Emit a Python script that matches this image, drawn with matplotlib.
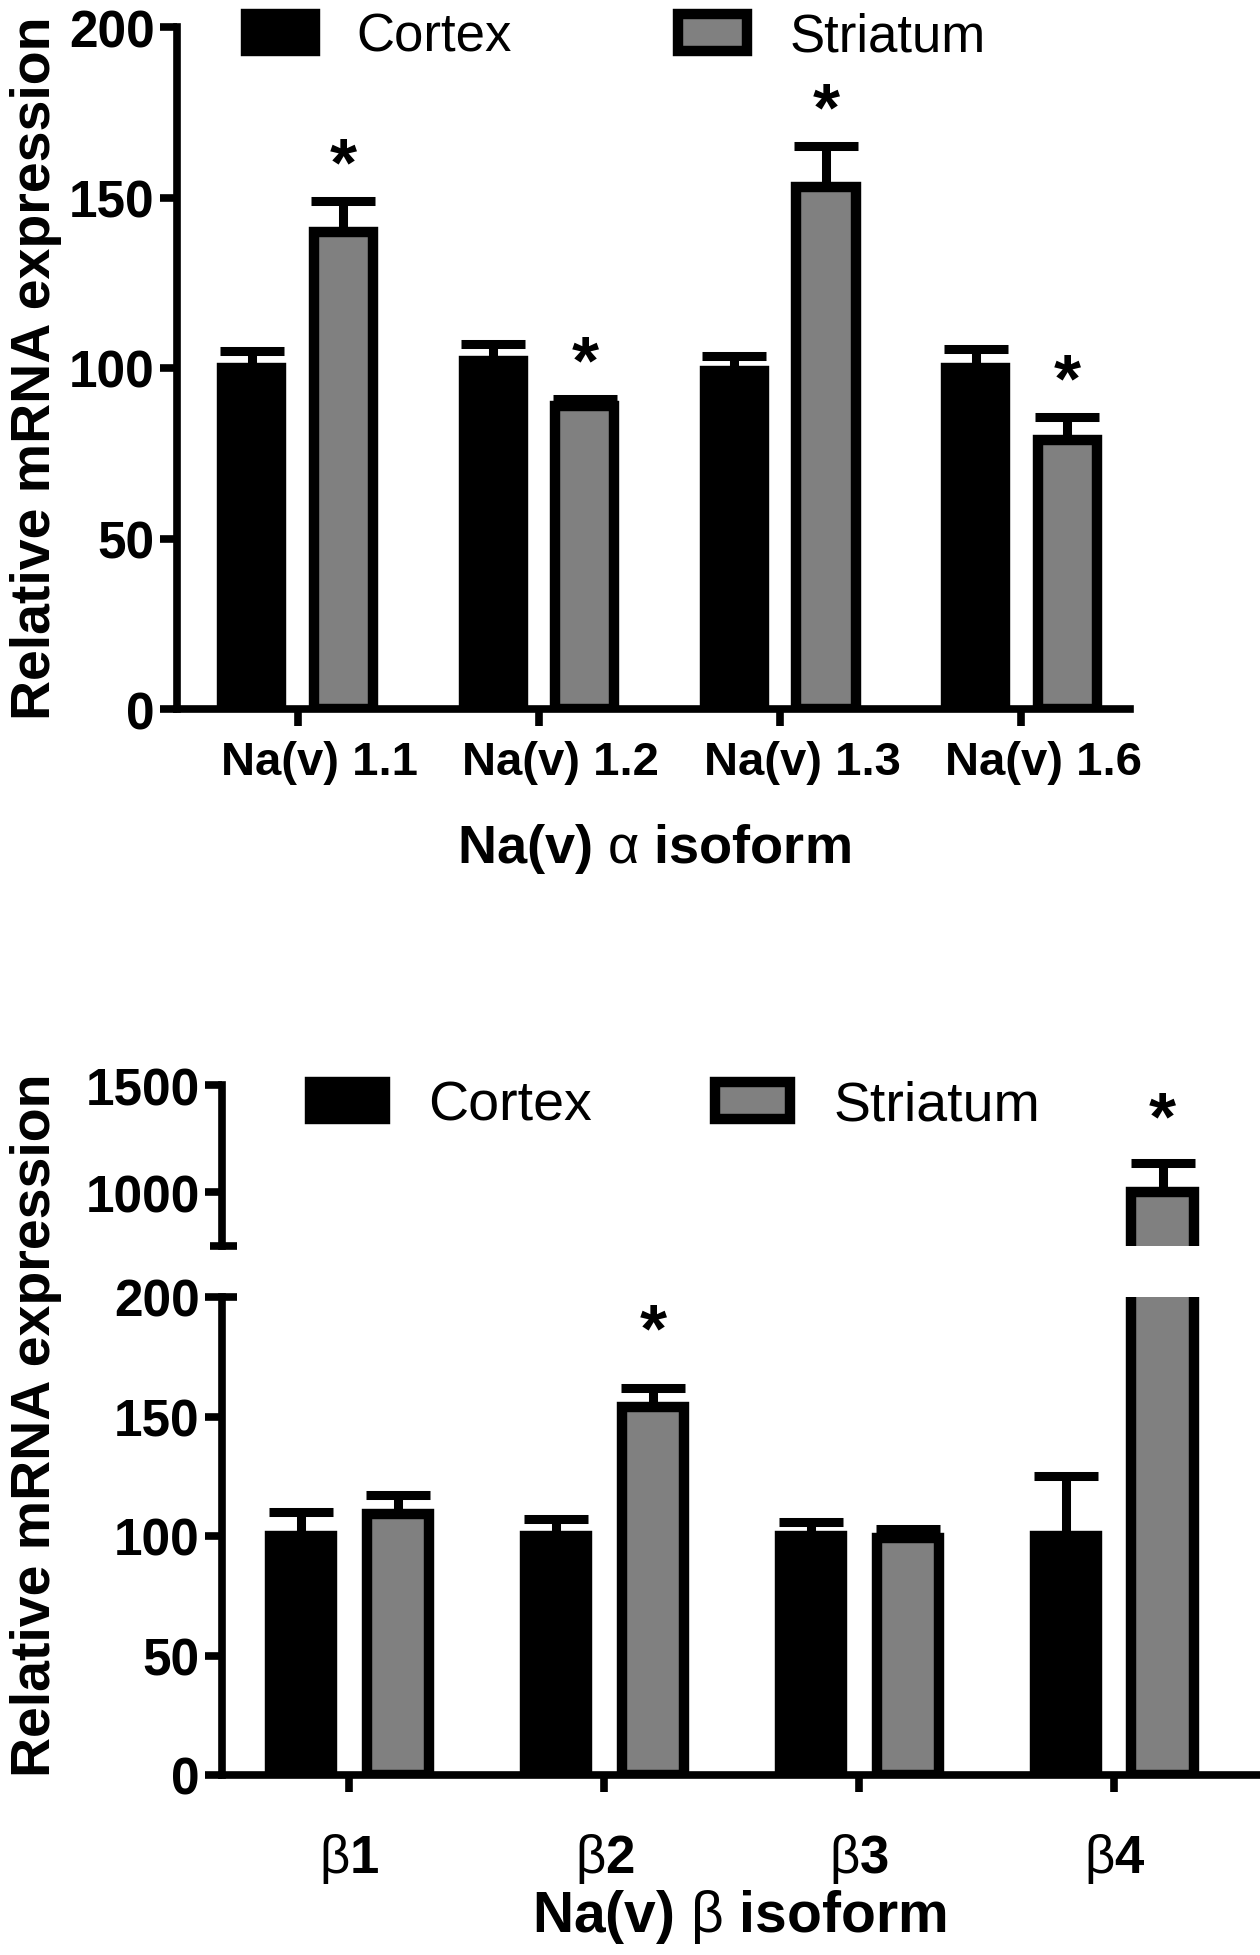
import matplotlib
matplotlib.use('Agg')
import matplotlib.pyplot as plt
import matplotlib.transforms as mtransforms
from matplotlib.patches import Patch
import numpy as np

plt.rcParams['font.family'] = ['Liberation Sans', 'DejaVu Sans']
plt.rcParams['mathtext.fontset'] = 'custom'
plt.rcParams['mathtext.rm'] = 'Liberation Sans'
plt.rcParams['mathtext.it'] = 'Liberation Sans:italic'
plt.rcParams['mathtext.bf'] = 'Liberation Sans:bold'

# ---------------- data ----------------
alpha_cats = ['Na(v) 1.1', 'Na(v) 1.2', 'Na(v) 1.3', 'Na(v) 1.6']
alpha_cortex = [100, 102, 99, 100]
alpha_cortex_err = [5, 5, 4.5, 5.5]
alpha_striatum = [140, 89, 153, 79]
alpha_striatum_err = [9, 2, 12, 6.5]
alpha_sig = [True, True, True, True]

beta_cats = [r'$\mathrm{\beta}$1', r'$\mathrm{\beta}$2', r'$\mathrm{\beta}$3', r'$\mathrm{\beta}$4']
beta_cortex = [100, 100, 100, 100]
beta_cortex_err = [10, 7, 6, 25]
beta_striatum = [109, 154, 99, 1000]
beta_striatum_err = [8, 8, 4, 135]
beta_sig = [False, True, False, True]

series_names = ['Cortex', 'Striatum']
ylabel = 'Relative mRNA expression'
alpha_xlabel = r'Na(v) $\mathrm{\alpha}$ isoform'
beta_xlabel = r'Na(v) $\mathrm{\beta}$ isoform'

# ---------------- style ----------------
W, H = 1260, 1956
DPI = 100
C_CORTEX = 'black'
C_STRIATUM = '#808080'
BAR_W = 0.245
OFF = 0.19
EDGE_LW = 7.5
ERR_LW = 6.5
CAPSIZE = 23
SPINE_LW = 5.5
YTICK_FS = 37
STAR_FS = 50

fig = plt.figure(figsize=(W / DPI, H / DPI), dpi=DPI)


def rect(x0, x1, ytop, ybot):
    return [x0 / W, 1 - ybot / H, (x1 - x0) / W, (ybot - ytop) / H]


def style_axes(ax, bottom=True):
    for s in ['top', 'right']:
        ax.spines[s].set_visible(False)
    ax.spines['left'].set_linewidth(SPINE_LW)
    ax.spines['bottom'].set_linewidth(SPINE_LW)
    if not bottom:
        ax.spines['bottom'].set_visible(False)
    ax.tick_params(axis='both', length=12, width=SPINE_LW, pad=4,
                   direction='out')
    ax.tick_params(axis='y', labelsize=YTICK_FS)
    for lab in ax.get_yticklabels():
        lab.set_fontweight('bold')


def draw_bars(ax, cortex, cerr, striatum, serr):
    x = np.arange(len(cortex))
    ax.bar(x - OFF, cortex, BAR_W, color=C_CORTEX, edgecolor='black',
           linewidth=EDGE_LW, zorder=2, label=series_names[0])
    ax.bar(x + OFF, striatum, BAR_W, color=C_STRIATUM, edgecolor='black',
           linewidth=EDGE_LW, zorder=2, label=series_names[1])
    ax.errorbar(x - OFF, cortex, yerr=[np.zeros(len(x)), cerr], fmt='none',
                ecolor='black', elinewidth=ERR_LW, capsize=CAPSIZE,
                capthick=ERR_LW, zorder=1)
    ax.errorbar(x + OFF, striatum, yerr=[np.zeros(len(x)), serr], fmt='none',
                ecolor='black', elinewidth=ERR_LW, capsize=CAPSIZE,
                capthick=ERR_LW, zorder=1)


def star(ax, i, top, offset_pt):
    ax.annotate('*', xy=(i + OFF, top), xytext=(0, offset_pt),
                textcoords='offset points', ha='center', va='center',
                fontsize=STAR_FS, fontweight='bold', annotation_clip=False)


def legend_handles():
    return [Patch(facecolor=C_CORTEX, edgecolor='black', linewidth=EDGE_LW),
            Patch(facecolor=C_STRIATUM, edgecolor='black', linewidth=EDGE_LW)]


# ================= top panel (alpha) =================
ax1 = fig.add_axes(rect(177, 1130, 28, 710))
draw_bars(ax1, alpha_cortex, alpha_cortex_err, alpha_striatum, alpha_striatum_err)
ax1.set_ylim(0, 200)
ax1.set_yticks([0, 50, 100, 150, 200])
ax1.set_xlim(-0.5, 3.45)
ax1.set_xticks(np.arange(4))
ax1.set_xticklabels(alpha_cats, fontsize=34, fontweight='bold')
style_axes(ax1)
ax1.tick_params(axis='x', pad=10)
shift = mtransforms.ScaledTranslation(22 / DPI, 0, fig.dpi_scale_trans)
for lab in ax1.get_xticklabels():
    lab.set_transform(lab.get_transform() + shift)
ax1.set_xlabel(alpha_xlabel, fontsize=39, fontweight='bold', labelpad=27)
for i, (v, e, s) in enumerate(zip(alpha_striatum, alpha_striatum_err, alpha_sig)):
    if s:
        star(ax1, i, v + e, 25)
fig.text(36 / W, 1 - 368 / H, ylabel, rotation=90, ha='center', va='center',
         fontsize=40, fontweight='bold')
fig.legend(handles=legend_handles(), labels=series_names, loc='center left',
           bbox_to_anchor=(246 / W, 1 - 38 / H), ncol=2, frameon=False,
           fontsize=38, handlelength=1.3, handleheight=0.69,
           handletextpad=0.8, columnspacing=3.15, borderpad=0, borderaxespad=0)

# ================= bottom panel (beta), broken axis =================
axL = fig.add_axes(rect(222, 1257, 1298, 1776))
axU = fig.add_axes(rect(222, 1257, 1086, 1247), sharex=axL)
for ax in (axL, axU):
    draw_bars(ax, beta_cortex, beta_cortex_err, beta_striatum, beta_striatum_err)
axL.set_ylim(0, 200)
axL.set_yticks([0, 50, 100, 150, 200])
axU.set_ylim(750, 1500)
axU.set_yticks([1000, 1500])
axL.set_xlim(-0.5, 3.56)
axL.set_xticks(np.arange(4))
axL.set_xticklabels(beta_cats, fontsize=38, fontweight='bold')
style_axes(axL)
style_axes(axU, bottom=False)
axU.tick_params(axis='x', bottom=False, labelbottom=False)
axL.tick_params(axis='x', pad=28)
axL.set_xlabel(beta_xlabel, fontsize=41, fontweight='bold', labelpad=2)

# break marks
axL.plot([0, 0.0145], [1, 1], transform=axL.transAxes, color='black',
         lw=SPINE_LW, clip_on=False, solid_capstyle='butt')
axU.plot([-0.012, 0.0145], [0, 0], transform=axU.transAxes, color='black',
         lw=SPINE_LW, clip_on=False, solid_capstyle='butt')

# stars: values inside the lower range go to the lower axes, others to the upper
for i, (v, e, s) in enumerate(zip(beta_striatum, beta_striatum_err, beta_sig)):
    if s:
        if v + e > 200:
            star(axU, i, v + e, 31)
        else:
            star(axL, i, v + e, 40)

fig.text(36 / W, 1 - 1425 / H, ylabel, rotation=90, ha='center', va='center',
         fontsize=40, fontweight='bold')
fig.legend(handles=legend_handles(), labels=series_names, loc='center left',
           bbox_to_anchor=(310 / W, 1 - 1107 / H), ncol=2, frameon=False,
           fontsize=40, handlelength=1.35, handleheight=0.66,
           handletextpad=0.78, columnspacing=2.22, borderpad=0, borderaxespad=0)

fig.savefig('out.png', dpi=DPI)
